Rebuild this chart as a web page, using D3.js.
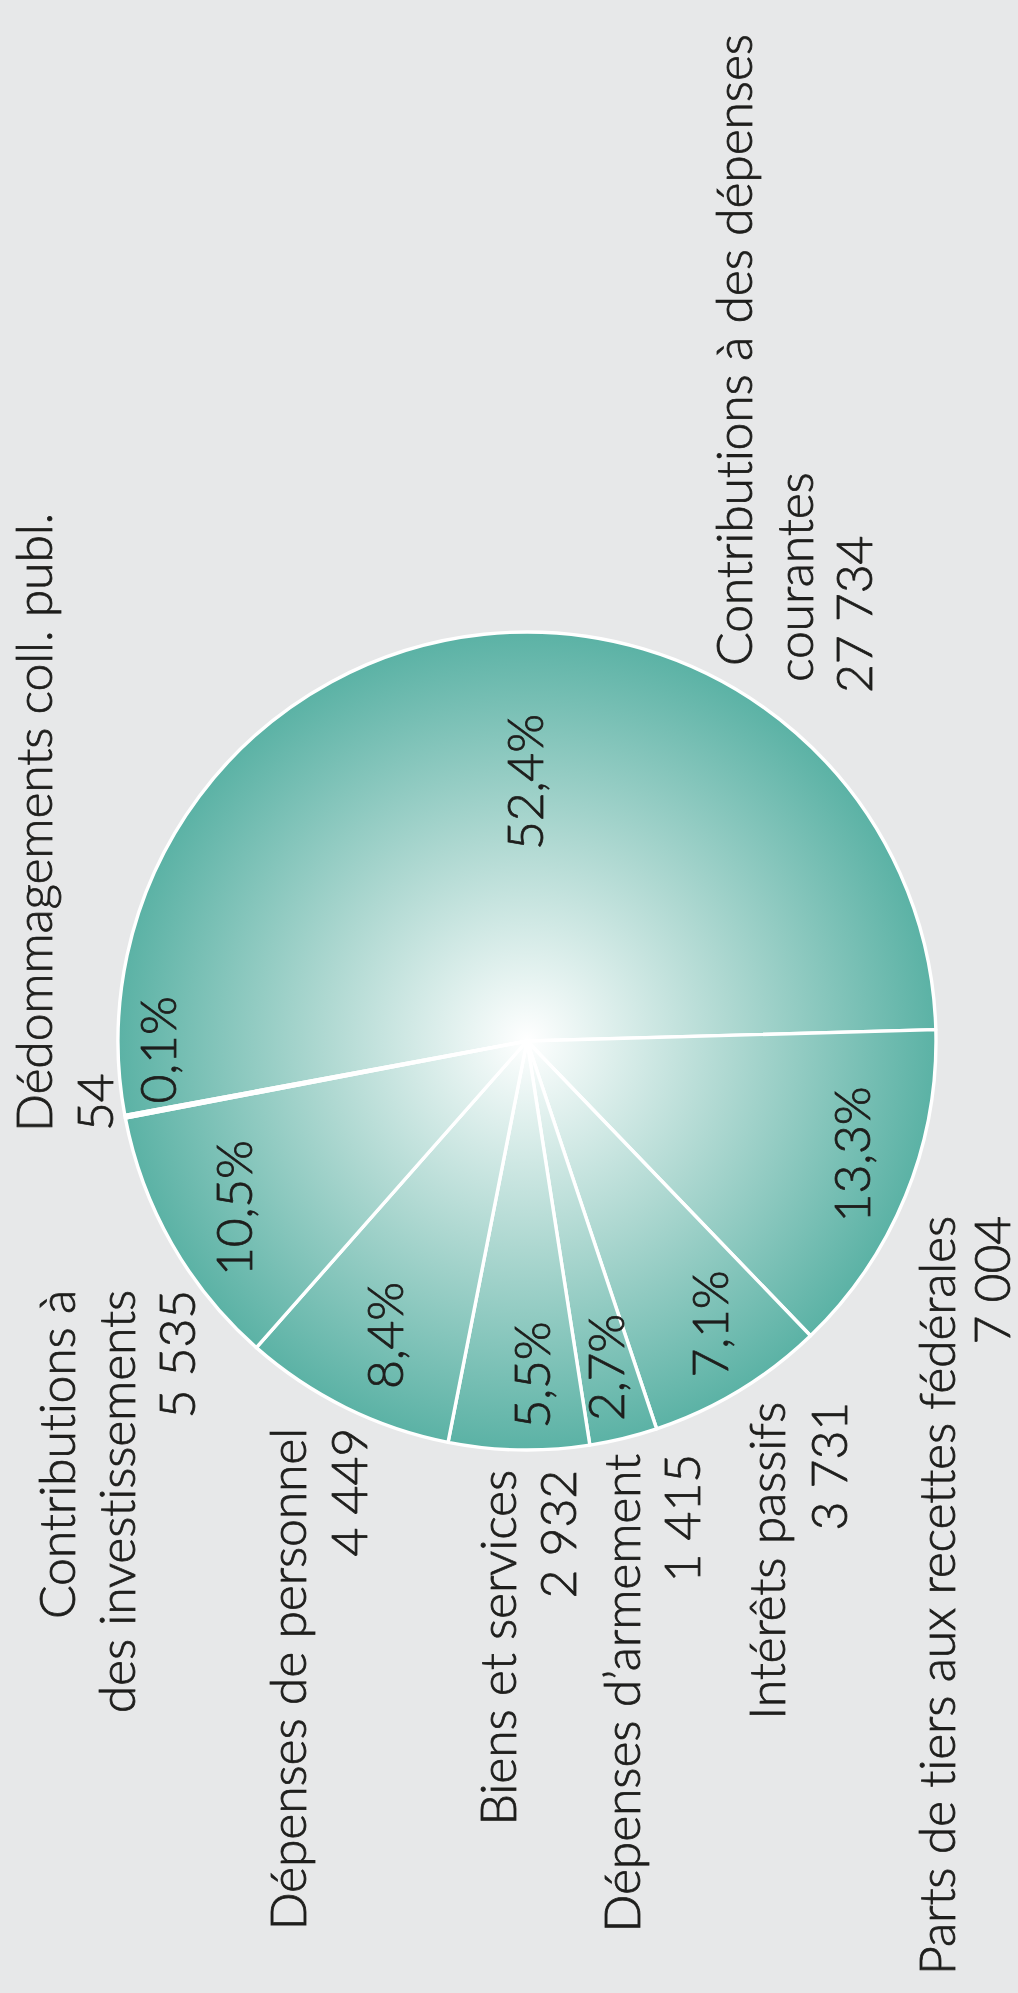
<!DOCTYPE html>
<html>
<head>
<meta charset="utf-8">
<script src="https://cdn.jsdelivr.net/npm/d3@7"></script>
<style>
  html, body { margin: 0; padding: 0; background: #e7e8e9; }
  svg { display: block; }
  text {
    font-family: "Lato", "Open Sans", sans-serif;
    font-weight: 300;
    fill: #1e1e1c;
    stroke: #1e1e1c;
    stroke-width: 0.8px;
    letter-spacing: -0.2px;
  }
</style>
</head>
<body>
<svg id="chart" width="1018" height="1993"></svg>
<script>
// Expenditure breakdown (in millions), drawn as a pie read from bottom to top
const categories = [
  "Contributions à des dépenses courantes",
  "Parts de tiers aux recettes fédérales",
  "Intérêts passifs",
  "Dépenses d’armement",
  "Biens et services",
  "Dépenses de personnel",
  "Contributions à des investissements",
  "Dédommagements coll. publ."
];
const values = [27734, 7004, 3731, 1415, 2932, 4449, 5535, 54];
const shares = ["52,4%", "13,3%", "7,1%", "2,7%", "5,5%", "8,4%", "10,5%", "0,1%"];

// How each category name wraps onto lines
const categoryLines = [
  ["Contributions à des dépenses", "courantes"],
  ["Parts de tiers aux recettes fédérales"],
  ["Intérêts passifs"],
  ["Dépenses d’armement"],
  ["Biens et services"],
  ["Dépenses de personnel"],
  ["Contributions à", "des investissements"],
  ["Dédommagements coll. publ."]
];

// Label block placement: baseline x of each line, anchor y, text anchor
const labelLayout = [
  { anchor: "start", x: [752, 813, 872], y: [666, 682, 693] },
  { anchor: "end",   x: [955, 1010],     y: [1216, 1216] },
  { anchor: "end",   x: [785, 847],      y: [1402, 1402] },
  { anchor: "end",   x: [640, 700],      y: [1454, 1454] },
  { anchor: "end",   x: [516, 576],      y: [1470, 1470] },
  { anchor: "end",   x: [306, 367],      y: [1428, 1428] },
  { anchor: "end",   x: [75, 135, 195],  y: [1290, 1290, 1290] },
  { anchor: "start", x: [52, 113],       y: [1132, 1131] }
];

// Percentage labels: angle nudge (deg) from the slice middle and distance from centre
const shareLayout = [
  { da: 5.6, r: 259 }, { da: -3.0, r: 344 }, { da: -1.7, r: 337 }, { da: 0, r: 336 },
  { da: -2.0, r: 334 }, { da: -0.5, r: 327 }, { da: 0, r: 337 }, { da: 9.3, r: 369 }
];

const W = 1018, H = 1993;
const cx = 527, cy = 1041, R = 409;
const fontSize = 50;
const startDeg = 259.5;

const fmt = d3.formatLocale({ decimal: ",", thousands: " ", grouping: [3] }).format(",d");

const svg = d3.select("#chart");
svg.append("rect").attr("width", W).attr("height", H).attr("fill", "#e7e8e9");

const defs = svg.append("defs");
const grad = defs.append("radialGradient")
  .attr("id", "sliceFill")
  .attr("gradientUnits", "userSpaceOnUse")
  .attr("cx", 0).attr("cy", 0).attr("r", R);
grad.append("stop").attr("offset", 0).attr("stop-color", "#ffffff");
grad.append("stop").attr("offset", 0.5).attr("stop-color", "#aed8d1");
grad.append("stop").attr("offset", 1).attr("stop-color", "#5bb2a5");

const toRad = d => d * Math.PI / 180;
const pie = d3.pie().sort(null).value(d => d)
  .startAngle(toRad(startDeg)).endAngle(toRad(startDeg + 360));
const arcs = pie(values);
const arc = d3.arc().innerRadius(0).outerRadius(R);

const g = svg.append("g").attr("transform", `translate(${cx},${cy})`);
g.selectAll("path.slice")
  .data(arcs)
  .join("path")
  .attr("class", "slice")
  .attr("d", arc)
  .attr("fill", "url(#sliceFill)")
  .attr("stroke", "#ffffff")
  .attr("stroke-width", 3.4)
  .attr("stroke-linejoin", "round");

// Percentages inside the slices
g.selectAll("text.share")
  .data(arcs)
  .join("text")
  .attr("class", "share")
  .attr("transform", (d, i) => {
    const a = (d.startAngle + d.endAngle) / 2 + toRad(shareLayout[i].da);
    const r = shareLayout[i].r;
    const x = r * Math.sin(a), y = -r * Math.cos(a);
    return `translate(${x},${y}) rotate(-90)`;
  })
  .attr("text-anchor", "middle")
  .attr("dy", "0.36em")
  .attr("font-size", fontSize)
  .text((d, i) => shares[i]);

// Category names with their amounts
const labels = svg.append("g");
categories.forEach((c, i) => {
  const lines = categoryLines[i].concat([fmt(values[i])]);
  const L = labelLayout[i];
  lines.forEach((t, j) => {
    labels.append("text")
      .attr("transform", `translate(${L.x[j]},${L.y[j]}) rotate(-90)`)
      .attr("text-anchor", L.anchor)
      .attr("font-size", fontSize)
      .text(t);
  });
});
</script>
</body>
</html>
